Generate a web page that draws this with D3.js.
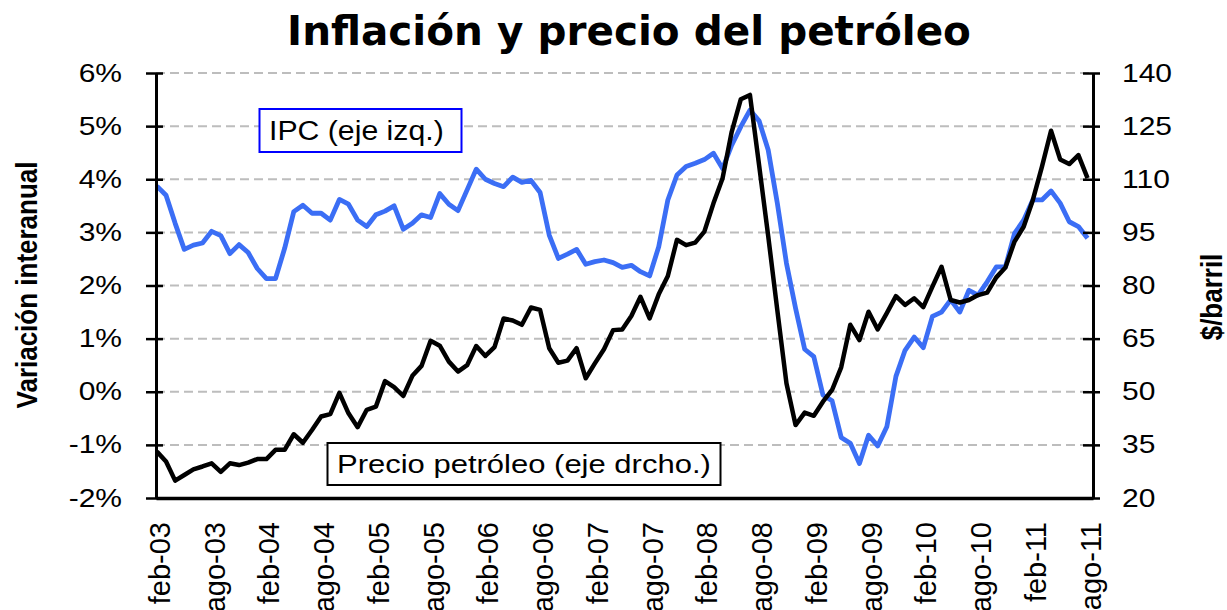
<!DOCTYPE html>
<html><head><meta charset="utf-8">
<script src="https://cdn.jsdelivr.net/npm/d3@7"></script>
<style>body{margin:0;background:#fff} svg{display:block}</style>
</head><body><svg id="c" width="1227" height="610"></svg>
<script>
// IPC, variación interanual (%), feb-03 .. ago-11 (monthly)
const ipc = [3.87,3.70,3.17,2.68,2.76,2.80,3.02,2.94,2.60,2.77,2.62,2.32,2.13,2.13,2.70,3.39,3.51,3.36,3.36,3.23,
3.62,3.53,3.23,3.11,3.33,3.40,3.50,3.06,3.17,3.33,3.28,3.73,3.53,3.41,3.80,4.19,4.00,3.92,3.86,4.04,
3.94,3.98,3.75,2.95,2.51,2.59,2.68,2.40,2.45,2.48,2.43,2.34,2.38,2.26,2.18,2.73,3.61,4.08,4.24,4.30,
4.37,4.49,4.20,4.64,4.99,5.30,5.10,4.55,3.55,2.42,1.57,0.80,0.66,-0.06,-0.17,-0.86,-0.97,-1.35,-0.82,-1.02,
-0.66,0.29,0.78,1.03,0.83,1.42,1.50,1.73,1.50,1.91,1.82,2.07,2.35,2.35,2.98,3.23,3.61,3.61,3.78,3.55,
3.20,3.11,2.89];
// Precio del petróleo ($/barril), same months
const oil = [33.1,30.3,24.9,26.5,28.1,28.9,29.8,27.4,29.8,29.3,30.0,31.0,31.0,33.6,33.6,38.0,35.6,39.2,43.0,43.7,
49.7,43.9,40.0,44.9,45.8,53.0,51.3,48.8,54.5,57.3,64.4,63.0,58.5,55.7,57.5,62.9,60.1,62.6,70.7,70.1,
68.9,73.8,73.1,62.3,58.2,58.8,62.3,53.8,58.0,62.0,67.4,67.6,71.4,76.8,70.7,77.5,82.7,92.9,91.4,92.1,
95.2,103.2,110.3,123.4,132.6,133.8,114.0,94.0,73.0,52.4,40.6,44.1,43.2,47.2,50.5,56.9,68.9,64.6,72.6,67.6,
72.2,77.0,74.5,76.4,73.9,79.7,85.3,75.9,75.2,75.9,77.3,78.0,82.3,85.1,92.4,96.6,104.1,113.5,123.7,115.6,
114.3,116.8,110.3];
const leftTicks = [-2,-1,0,1,2,3,4,5,6];
const rightTicks = [20,35,50,65,80,95,110,125,140];
const xTickLabels = ["feb-03","ago-03","feb-04","ago-04","feb-05","ago-05","feb-06","ago-06","feb-07",
"ago-07","feb-08","ago-08","feb-09","ago-09","feb-10","ago-10","feb-11","ago-11"];
const xTickStep = 6;
const title = "Inflación y precio del petróleo";
const leftTitle = "Variación interanual";
const rightTitle = "$/barril";
const legendIPC = "IPC (eje izq.)";
const legendOil = "Precio petróleo (eje drcho.)";

const svg = d3.select('#c');
const L = 156, R = 1093, T = 73, B = 498;
const x = d3.scaleLinear().domain([-0.1, 102.6]).range([L, R]);
const yL = d3.scaleLinear().domain([-2, 6]).range([B, T]);
const yR = d3.scaleLinear().domain([20, 140]).range([B, T]);
const sans = "'Liberation Sans', Arial, sans-serif";

// gridlines
svg.append('g').selectAll('line').data(leftTicks.filter(d => d > -2)).join('line')
  .attr('x1', L).attr('x2', R).attr('y1', d => yL(d)).attr('y2', d => yL(d))
  .attr('stroke', '#bdbdbd').attr('stroke-width', 2).attr('stroke-dasharray', '9,5');

// lines
const lineL = d3.line().x((d, i) => x(i)).y(d => yL(d));
const lineR = d3.line().x((d, i) => x(i)).y(d => yR(d));
svg.append('path').datum(ipc).attr('d', lineL).attr('fill', 'none')
  .attr('stroke', '#3b6ef5').attr('stroke-width', 4.8).attr('stroke-linejoin', 'round');
svg.append('path').datum(oil).attr('d', lineR).attr('fill', 'none')
  .attr('stroke', '#000').attr('stroke-width', 4.5).attr('stroke-linejoin', 'round');

// axes
const gl = svg.append('g').attr('transform', `translate(${L},0)`)
  .call(d3.axisLeft(yL).tickValues(leftTicks).tickSize(10).tickSizeOuter(0).tickFormat(''));
gl.selectAll('.tick').append('line').attr('x1', 0).attr('x2', 7).attr('stroke', '#000');
const gr = svg.append('g').attr('transform', `translate(${R},0)`)
  .call(d3.axisRight(yR).tickValues(rightTicks).tickSize(7).tickSizeOuter(0).tickFormat(''));
gr.selectAll('.tick').append('line').attr('x1', 0).attr('x2', -10).attr('stroke', '#000');
const gb = svg.append('g').attr('transform', `translate(0,${B})`)
  .call(d3.axisBottom(x).tickValues([]).tickSizeOuter(0));
[gl, gr].forEach(g => { g.selectAll('line').attr('stroke-width', 2.5); g.select('.domain').attr('stroke-width', 3); });
gb.select('.domain').attr('stroke-width', 3.5);

// tick labels
svg.append('g').selectAll('text').data(leftTicks).join('text')
  .attr('transform', d => `translate(122,${yL(d) + 8.5}) scale(1.2,1)`)
  .attr('text-anchor', 'end').attr('font-family', sans).attr('font-size', 25)
  .text(d => d + '%');
svg.append('g').selectAll('text').data(rightTicks).join('text')
  .attr('transform', d => `translate(1122,${yR(d) + 8.5}) scale(1.2,1)`)
  .attr('text-anchor', 'start').attr('font-family', sans).attr('font-size', 25)
  .text(d => d);
svg.append('g').selectAll('text').data(xTickLabels).join('text')
  .attr('transform', (d, i) => `translate(${x(i * xTickStep) + 13},522) rotate(-90)`)
  .attr('text-anchor', 'end').attr('font-family', sans).attr('font-size', 29)
  .text(d => d);

// titles
svg.append('text').attr('x', 629).attr('y', 45).attr('text-anchor', 'middle')
  .attr('font-family', "'DejaVu Sans', Verdana, sans-serif").attr('font-weight', 'bold')
  .attr('font-size', 40.5).text(title);
svg.append('text').attr('transform', 'translate(37,285) rotate(-90) scale(1,1.15)')
  .attr('text-anchor', 'middle').attr('font-family', sans).attr('font-weight', 'bold')
  .attr('font-size', 26).text(leftTitle);
svg.append('text').attr('transform', 'translate(1222,297) rotate(-90) scale(1,1.15)')
  .attr('text-anchor', 'middle').attr('font-family', sans).attr('font-weight', 'bold')
  .attr('font-size', 26).text(rightTitle);

// legend boxes
svg.append('rect').attr('x', 259.5).attr('y', 109).attr('width', 202).attr('height', 43)
  .attr('fill', '#fff').attr('stroke', '#0000ff').attr('stroke-width', 2);
svg.append('text').attr('transform', 'translate(269,140) scale(1.12,1)')
  .attr('font-family', sans).attr('font-size', 27).text(legendIPC);
svg.append('rect').attr('x', 327.5).attr('y', 443).attr('width', 393).attr('height', 42)
  .attr('fill', '#fff').attr('stroke', '#000').attr('stroke-width', 2);
svg.append('text').attr('transform', 'translate(337,473) scale(1.17,1)')
  .attr('font-family', sans).attr('font-size', 26.5).text(legendOil);
</script></body></html>
